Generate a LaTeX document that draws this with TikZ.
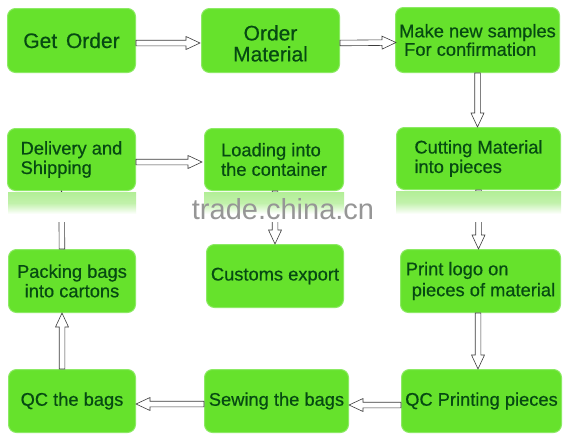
\documentclass[tikz,border=0pt]{standalone}
\usepackage{fontspec}
\setmainfont{Liberation Sans}
\newfontfamily\boxfont{Liberation Sans}[FakeBold=0.5]
\usetikzlibrary{calc}
\definecolor{boxgreen}{RGB}{102,226,44}
\definecolor{boxedge}{RGB}{140,234,100}
\definecolor{txtgreen}{RGB}{6,74,18}
\definecolor{arrowgray}{RGB}{60,60,60}
\definecolor{wmgray}{RGB}{150,150,150}
\definecolor{reflgreen}{RGB}{178,238,150}
\begin{document}
\begin{tikzpicture}[x=1pt,y=-1pt,
  box/.style={rounded corners=8pt, fill=boxgreen, draw=boxedge, line width=1pt,
    text=txtgreen, inner xsep=1pt, inner ysep=1pt,
    font=\boxfont\fontsize{18.3}{19.5}\selectfont},
  bigbox/.style={box, font=\boxfont\fontsize{21}{21}\selectfont},
  harrow/.style={draw=arrowgray, line width=0.6pt, fill=white, to path={
    let \p1=($(\tikztotarget)!14pt!(\tikztostart)$) in
    ($(\tikztostart)!2.8pt!90:(\tikztotarget)$)
    -- ($(\p1)!2.8pt!-90:(\tikztostart)$)
    -- ($(\p1)!6.5pt!-90:(\tikztostart)$)
    -- (\tikztotarget)
    -- ($(\p1)!6.5pt!90:(\tikztostart)$)
    -- ($(\p1)!2.8pt!90:(\tikztostart)$)
    -- ($(\tikztostart)!2.8pt!-90:(\tikztotarget)$) -- cycle}}]
\useasboundingbox[fill=white] (0,0) rectangle (567,437);

% row 1
\node[bigbox, minimum width=128pt, minimum height=64pt] (getorder) at (71.5,40.5) {Get\hspace{3pt} Order};
\node[bigbox, minimum width=138pt, minimum height=64pt, align=center] (ordermat) at (270.5,40.5) {\rule{0pt}{21pt}Order\\Material};
\node[box, minimum width=164pt, minimum height=65pt, align=left, font=\boxfont\fontsize{18.3}{18.5}\selectfont] (make) at (477.5,40) {Make new samples\\\hspace*{5pt}For confirmation};
% row 2
\node[box, minimum width=128pt, minimum height=62pt, align=left] (delivery) at (71.5,159.5) {Delivery and\\Shipping};
\node[box, minimum width=139pt, minimum height=62pt, align=left] (loading) at (274,159.5) {Loading into\\the container};
\node[box, minimum width=164pt, minimum height=62pt, align=left] (cutting) at (478.5,158.5) {Cutting Material\\into pieces};
% row 3
\node[box, minimum width=127pt, minimum height=63pt, align=center] (packing) at (72,281) {Packing bags\\into cartons};
\node[box, minimum width=137pt, minimum height=63pt] (customs) at (275,276) {Customs export};
\node[box, minimum width=160pt, minimum height=63pt, align=left, font=\boxfont\fontsize{18.3}{21}\selectfont] (print) at (480.5,281) {Print logo on\\\hspace*{6pt}pieces of material};
% row 4
\node[box, minimum width=127pt, minimum height=63pt] (qcbags) at (72,401) {QC the bags};
\node[box, minimum width=144pt, minimum height=63pt] (sewing) at (276.5,401) {Sewing the bags};
\node[box, minimum width=160pt, minimum height=63pt] (qcprint) at (481.5,401) {QC Printing pieces};

% connectors
\path[harrow] ([yshift=-2.5pt]getorder.east) to ([yshift=-2.5pt,xshift=-1pt]ordermat.west);
\path[harrow] ([yshift=-2.5pt]ordermat.east) to ([yshift=-2.5pt,xshift=1pt]make.west);
\path[harrow] (make.south) to (make.south |- cutting.north);
\path[harrow] ([yshift=-2.5pt]delivery.east) to ([yshift=-2.5pt,xshift=-2pt]loading.west);
\path[harrow] ([xshift=1pt]loading.south) to (customs.north);
\path[harrow] (cutting.south) to (cutting.south |- print.north);
\path[harrow] ([xshift=-10pt]packing.north) to ([xshift=-10pt]delivery.south);
\path[harrow] ([xshift=-2.5pt]print.south) to ([xshift=-3.5pt]qcprint.north);
\path[harrow] ([xshift=-10pt]qcbags.north) to ([xshift=-10pt]packing.south);
\path[harrow] ([yshift=-4pt]qcprint.west) to ([yshift=-4pt]sewing.east);
\path[harrow] ([yshift=-3pt]sewing.west) to ([yshift=-3pt]qcbags.east);

% reflection under row 2 and watermark
\fill[white] (0,191.5) rectangle (567,222);
\shade[top color=reflgreen, bottom color=white, middle color=reflgreen!80!white] (8,192) rectangle (136,214);
\shade[top color=reflgreen, bottom color=white, middle color=reflgreen!80!white] (204,192) rectangle (344,214);
\shade[top color=reflgreen, bottom color=white, middle color=reflgreen!80!white] (396,191) rectangle (561,214);
\node[text=wmgray, font=\fontsize{29}{29}\selectfont, anchor=base, inner sep=0pt] (wm) at (283,219) {trade.china.cn};
\end{tikzpicture}
\end{document}
